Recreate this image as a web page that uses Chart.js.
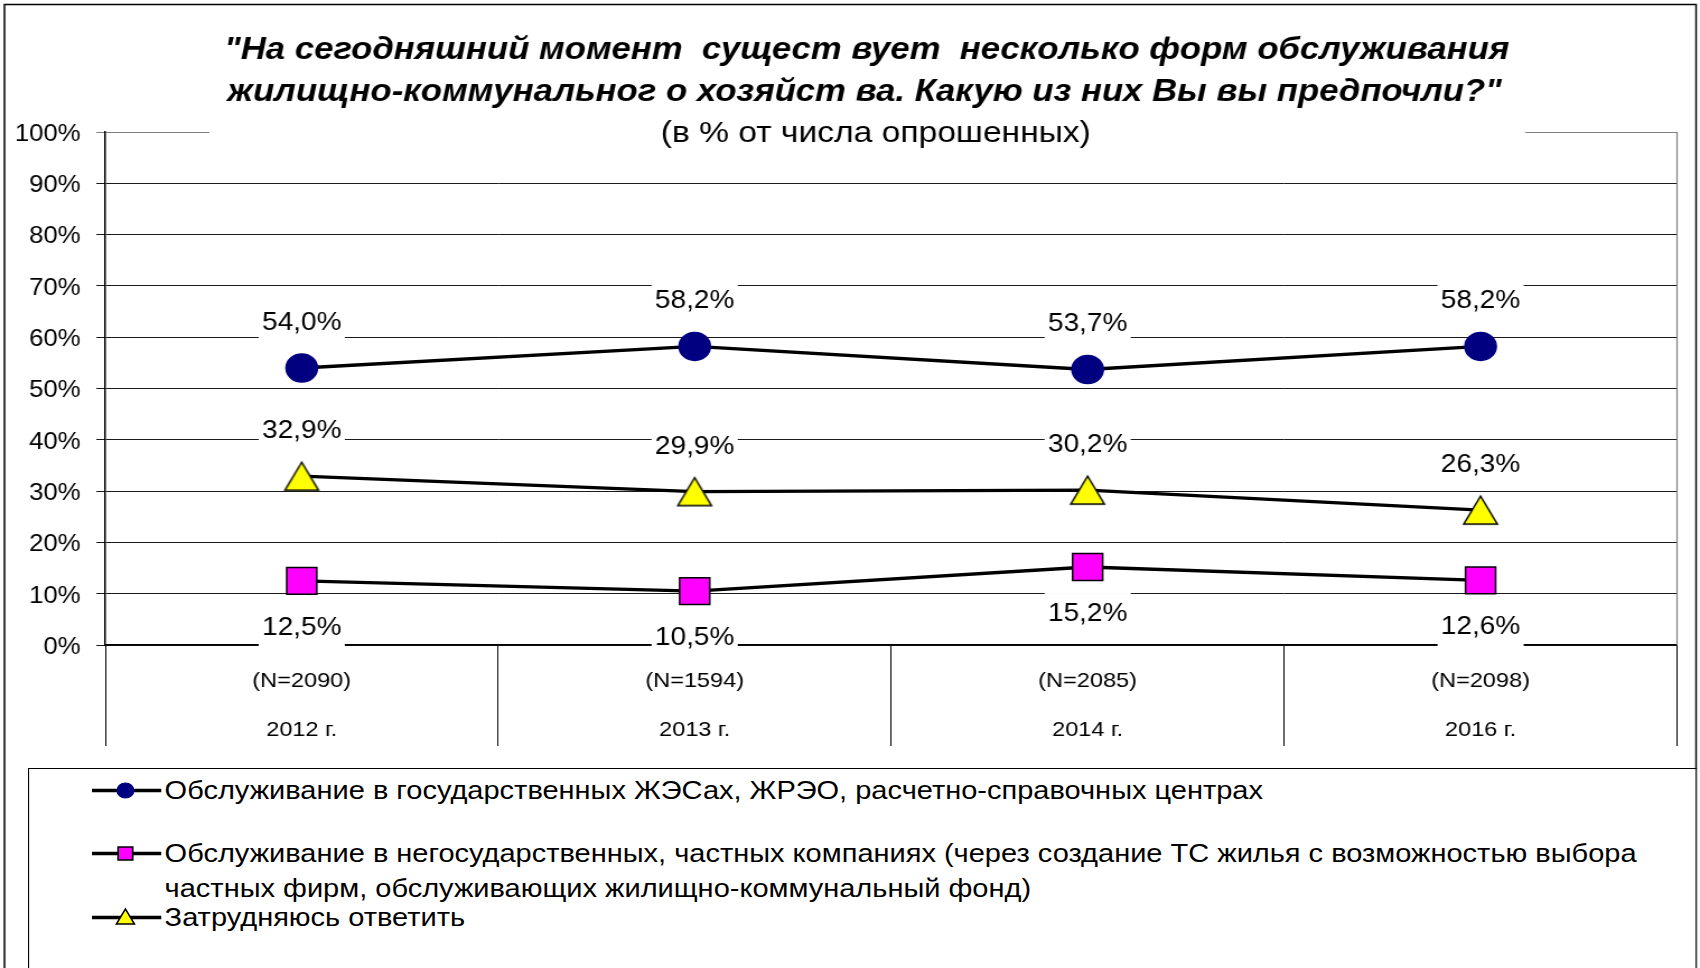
<!DOCTYPE html>
<html>
<head>
<meta charset="utf-8">
<script src="https://cdn.jsdelivr.net/npm/chart.js@4.4.1/dist/chart.umd.min.js"></script>
<style>
html,body{margin:0;padding:0;background:#fff;overflow:hidden;width:1700px;height:968px;}
#wrap{position:absolute;left:0;top:0;width:1518px;height:968px;transform:scaleX(1.11989);transform-origin:0 0;}
#c{position:absolute;left:0;top:0;}
#legend{position:absolute;left:25px;top:768px;width:1490px;height:230px;border:1px solid #000;border-bottom:none;box-sizing:border-box;font-family:"Liberation Sans",Arial,sans-serif;font-size:25.9px;color:#000;background:#fff;}
.item{position:absolute;left:56px;display:flex;align-items:flex-start;}
.item svg{flex:none;display:block;}
.item span{line-height:35px;width:1340px;display:block;}
</style>
</head>
<body>
<div id="wrap">
  <canvas id="c" width="1518" height="968"></canvas>
  <div id="legend"></div>
</div>
<script>
// ---- data ----
const categories = ['2012 г.', '2013 г.', '2014 г.', '2016 г.'];
const sampleSizes = ['(N=2090)', '(N=1594)', '(N=2085)', '(N=2098)'];
const seriesNames = [
  'Обслуживание в государственных ЖЭСах, ЖРЭО, расчетно-справочных центрах',
  'Обслуживание в негосударственных, частных компаниях (через создание ТС жилья с возможностью выбора частных фирм, обслуживающих жилищно-коммунальный фонд)',
  'Затрудняюсь ответить'
];
const stateService = [54.0, 58.2, 53.7, 58.2];
const privateService = [12.5, 10.5, 15.2, 12.6];
const hardToSay = [32.9, 29.9, 30.2, 26.3];
const labelPlacement = ['above', 'below', 'above'];
const yTickValues = [0, 10, 20, 30, 40, 50, 60, 70, 80, 90, 100];
const titleLines = [
  '"На сегодняшний момент  сущест вует  несколько форм обслуживания',
  'жилищно-коммунальног о хозяйст ва. Какую из них Вы вы предпочли?"'
];
const subtitleText = '(в % от числа опрошенных)';

const FONT = '"Liberation Sans", Arial, sans-serif';

// triangle marker image (centred on its bounding box, like the original)
function makeTriangle(w, h, fill) {
  const cv = document.createElement('canvas');
  cv.width = w + 4; cv.height = h + 4;
  const c = cv.getContext('2d');
  c.beginPath();
  c.moveTo(cv.width / 2, 2);
  c.lineTo(cv.width - 2, h + 2);
  c.lineTo(2, h + 2);
  c.closePath();
  c.fillStyle = fill; c.fill();
  c.lineWidth = 1.5; c.strokeStyle = '#000'; c.lineJoin = 'miter'; c.stroke();
  return cv;
}
const triangleMarker = makeTriangle(30, 28, '#FFFF00');

// ---- plugins ----
const framePlugin = {
  id: 'frame',
  beforeDraw(chart) {
    const ctx = chart.ctx;
    ctx.save();
    ctx.fillStyle = '#fff';
    ctx.fillRect(0, 0, chart.width, chart.height);
    ctx.restore();
  },
  beforeDatasetsDraw(chart) {
    const ctx = chart.ctx, a = chart.chartArea;
    ctx.save();
    ctx.strokeStyle = '#808080';
    ctx.lineWidth = 1.2;
    ctx.beginPath();
    ctx.moveTo(a.right, a.top);
    ctx.lineTo(a.right, a.bottom);
    ctx.stroke();
    ctx.restore();
  },
  afterDraw(chart) {
    const ctx = chart.ctx;
    ctx.save();
    // title block with white background over plot top
    ctx.fillStyle = '#fff';
    ctx.fillRect(187, 12, 1175, 138);
    ctx.fillStyle = '#000';
    ctx.textAlign = 'center';
    ctx.textBaseline = 'middle';
    ctx.font = 'italic bold 31px ' + FONT;
    ctx.fillText(titleLines[0], 774, 50);
    ctx.fillText(titleLines[1], 772, 92);
    ctx.font = '30px ' + FONT;
    ctx.fillText(subtitleText, 782, 134);
    // outer frame
    ctx.strokeStyle = '#000';
    ctx.lineWidth = 1.5;
    ctx.beginPath();
    ctx.moveTo(4, 980);
    ctx.lineTo(4, 4.5);
    ctx.lineTo(1514.5, 4.5);
    ctx.lineTo(1514.5, 980);
    ctx.stroke();
    ctx.restore();
  }
};

const valueLabelPlugin = {
  id: 'valueLabels',
  afterDatasetsDraw(chart) {
    const ctx = chart.ctx;
    ctx.save();
    ctx.font = '25px ' + FONT;
    ctx.textAlign = 'center';
    ctx.textBaseline = 'middle';
    chart.data.datasets.forEach((ds, di) => {
      const meta = chart.getDatasetMeta(di);
      const off = labelPlacement[di] === 'below' ? 46 : -46;
      meta.data.forEach((pt, i) => {
        const txt = ds.data[i].toFixed(1).replace('.', ',') + '%';
        const w = ctx.measureText(txt).width;
        const x = pt.x, y = pt.y + off;
        ctx.fillStyle = '#fff';
        ctx.fillRect(x - w / 2 - 3, y - 20, w + 6, 40);
        ctx.fillStyle = '#000';
        ctx.fillText(txt, x, y + 1);
      });
    });
    ctx.restore();
  }
};

const lineBase = {
  borderColor: '#000',
  borderWidth: 3.3,
  tension: 0,
  fill: false,
  pointBorderWidth: 1.5
};

const chart = new Chart(document.getElementById('c'), {
  type: 'line',
  data: {
    labels: categories.map((c, i) => [sampleSizes[i], c]),
    datasets: [
      Object.assign({}, lineBase, {
        label: seriesNames[0], data: stateService,
        pointStyle: 'circle', pointRadius: 14,
        pointBackgroundColor: '#000080', pointBorderColor: '#000080'
      }),
      Object.assign({}, lineBase, {
        label: seriesNames[1], data: privateService,
        pointStyle: 'rect', pointRadius: 19,
        pointBackgroundColor: '#FF00FF', pointBorderColor: '#000'
      }),
      Object.assign({}, lineBase, {
        label: seriesNames[2], data: hardToSay,
        pointStyle: triangleMarker, pointRadius: 16,
        pointBackgroundColor: '#FFFF00', pointBorderColor: '#000'
      })
    ]
  },
  options: {
    responsive: false,
    animation: false,
    events: [],
    layout: { padding: { left: 0, right: 17, top: 132, bottom: 222 } },
    plugins: {
      legend: { display: false },
      title: { display: false },
      tooltip: { enabled: false }
    },
    scales: {
      x: {
        type: 'category',
        offset: true,
        grid: {
          offset: true,
          drawOnChartArea: false,
          drawTicks: true,
          tickLength: 101,
          color: '#000',
          lineWidth: 1
        },
        border: { display: true, color: '#000', width: 1.5 },
        ticks: {
          autoSkip: false,
          maxRotation: 0,
          minRotation: 0,
          padding: -89.5,
          color: '#000',
          font: { family: FONT, size: 21, lineHeight: '49px' }
        },
        afterFit(scale) { scale.height = 101; }
      },
      y: {
        min: 0,
        max: 100,
        afterBuildTicks(scale) { scale.ticks = yTickValues.map(v => ({ value: v })); },
        grid: {
          drawTicks: true,
          tickLength: 8,
          color: (c) => (c.tick && c.tick.value === 100 ? '#808080' : '#1a1a1a'),
          lineWidth: 1
        },
        border: { display: true, color: '#000', width: 1.5 },
        ticks: {
          padding: 14,
          labelOffset: 2.5,
          color: '#000',
          font: { family: FONT, size: 23 },
          callback: (v) => v + '%'
        },
        afterFit(scale) { scale.width = 94; }
      }
    }
  },
  plugins: [framePlugin, valueLabelPlugin]
});

// ---- HTML legend ----
const legendEl = document.getElementById('legend');
const legendTops = [3.5, 66.5, 131];
const markerSvg = [
  '<circle cx="30" cy="17.5" r="7.5" fill="#000080" stroke="#000080" stroke-width="1"/>',
  '<rect x="23.5" y="11" width="13" height="13" fill="#FF00FF" stroke="#000" stroke-width="1.5"/>',
  '<polygon points="30,9 38,24 22,24" fill="#FFFF00" stroke="#000" stroke-width="1.5"/>'
];
chart.data.datasets.forEach((ds, i) => {
  const item = document.createElement('div');
  item.className = 'item';
  item.style.top = legendTops[i] + 'px';
  item.innerHTML =
    '<svg width="65" height="35" viewBox="0 0 65 35">' +
    '<line x1="0" y1="17.5" x2="62" y2="17.5" stroke="#000" stroke-width="3.5"/>' +
    markerSvg[i] + '</svg>';
  const span = document.createElement('span');
  span.textContent = ds.label;
  item.appendChild(span);
  legendEl.appendChild(item);
});
</script>
</body>
</html>
